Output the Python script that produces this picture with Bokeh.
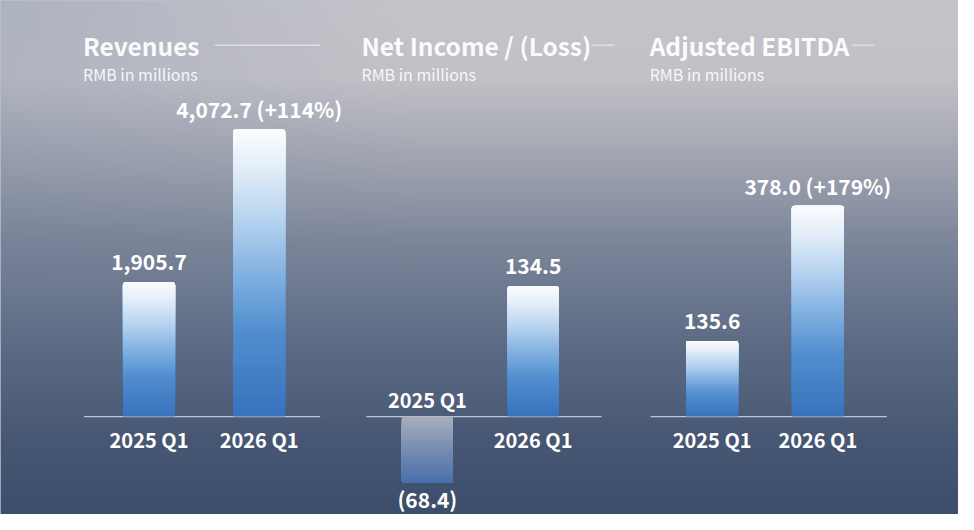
import numpy as np
from bokeh.plotting import figure
from bokeh.models import Range1d, Label, ColumnDataSource
from bokeh.embed import file_html
from bokeh.resources import INLINE
from bokeh.core.properties import value

# ---------------- data ----------------
periods = ["2025 Q1", "2026 Q1"]
revenues = [1905.7, 4072.7]
revenue_labels = ["1,905.7", "4,072.7 (+114%)"]
net_income = [-68.4, 134.5]
net_income_labels = ["(68.4)", "134.5"]
ebitda = [135.6, 378.0]
ebitda_labels = ["135.6", "378.0 (+179%)"]
titles = ["Revenues", "Net Income / (Loss)", "Adjusted EBITDA"]
subtitle = "RMB in millions"

# ---------------- layout / style (reference pixel space -> canvas) ----------------
W, H = 958, 514
REF_W, REF_H = 974, 530
SX, SY = W / REF_W, H / REF_H
FONT = "Noto Sans CJK SC"
BASE_REF_Y = 429


def cy(ref_y):
    return H - ref_y * SY


def cx(ref_x):
    return ref_x * SX


layout = [
    dict(centers=(151, 263), bar_px=53, base_x=(85, 325), ppu=296 / 4072.7,
         title_x=84, rule=(218, 325)),
    dict(centers=(434, 541.5), bar_px=52, base_x=(372, 611), ppu=1.0,
         title_x=367, rule=(601, 624)),
    dict(centers=(723.5, 831), bar_px=53, base_x=(661, 901), ppu=0.575,
         title_x=660, rule=(866, 889)),
]
series = [(revenues, revenue_labels), (net_income, net_income_labels), (ebitda, ebitda_labels)]

p = figure(width=W, height=H, x_range=Range1d(0, W), y_range=Range1d(0, H),
           x_axis_location=None, y_axis_location=None, min_border=0,
           toolbar_location=None, output_backend="svg",
           background_fill_color="#7a8699", border_fill_color="#7a8699")
p.grid.visible = False
p.outline_line_color = None


def interp(stops, t):
    pos = [s[0] for s in stops]
    arr = np.array([s[1] for s in stops], float)
    return np.stack([np.interp(t, pos, arr[:, c]) for c in range(3)], axis=-1)


# ---------------- background gradient ----------------
ny, nx = 265, 97
ref_y = REF_H - (np.arange(ny) + 0.5) * REF_H / ny
ref_x = (np.arange(nx) + 0.5) * REF_W / nx
bg_stops = [(0, (198, 196, 202)), (80, (194, 193, 199)), (160, (163, 166, 178)),
            (250, (124, 134, 154)), (350, (94, 108, 134)), (450, (72, 88, 116)),
            (530, (60, 78, 108))]
col = interp(bg_stops, ref_y)[:, None, :] * np.ones((1, nx, 1))
t_top = np.clip(1 - ref_y / 300, 0, 1)[:, None]
left = np.clip(1 - ref_x / 420, 0, 1)[None, :]
shift = np.array([-24, -17, -9], float)
col = col + (t_top * left)[:, :, None] * shift
rgba = np.empty((ny, nx, 4), dtype=np.uint8)
rgba[:, :, :3] = np.clip(col, 0, 255).astype(np.uint8)
rgba[:, :, 3] = 255
img = rgba.view(np.uint32).reshape(ny, nx)
p.image_rgba(image=[img], x=0, y=0, dw=W, dh=H)

# ---------------- bar gradients ----------------
pos_stops = [(0, (56, 114, 188)), (0.3, (82, 142, 207)), (0.5, (130, 178, 225)),
             (0.7, (186, 213, 240)), (0.88, (230, 239, 249)), (1, (251, 252, 254))]
neg_stops = [(0, (168, 174, 190)), (0.5, (118, 140, 178)), (1, (72, 112, 172))]
N = 60


def hexc(rgb):
    return "#%02x%02x%02x" % tuple(int(round(c)) for c in rgb)


for i, (lay, (vals, labs)) in enumerate(zip(layout, series)):
    c1, c2 = (cx(c) for c in lay["centers"])
    unit = c2 - c1
    xs = -c1 / unit
    xr = Range1d(xs, xs + W / unit)
    b = cy(BASE_REF_Y)
    ppu = lay["ppu"] * SY
    ys = -b / ppu
    yr = Range1d(ys, ys + H / ppu)
    xn, yn = "x%d" % i, "y%d" % i
    p.extra_x_ranges[xn] = xr
    p.extra_y_ranges[yn] = yr
    half = lay["bar_px"] * SX / unit / 2

    # baseline
    bx0 = (cx(lay["base_x"][0]) - c1) / unit
    bx1 = (cx(lay["base_x"][1]) - c1) / unit
    p.segment(x0=[bx0], y0=[0], x1=[bx1], y1=[0], x_range_name=xn, y_range_name=yn,
              line_color="#d4d8e2", line_alpha=0.85, line_width=1.3)

    for j, v in enumerate(vals):
        fr = [(k + 0.5) / N for k in range(N)]
        stops = pos_stops if v >= 0 else neg_stops
        colors = [hexc(c) for c in interp(stops, np.array(fr))]
        starts = [v * k / N for k in range(N)]
        if v >= 0:
            src = ColumnDataSource(dict(left=[j - half] * N, right=[j + half] * N,
                                        bottom=starts, top=[v] * N, color=colors))
            br = (3, 3, 0, 0)
        else:
            src = ColumnDataSource(dict(left=[j - half] * N, right=[j + half] * N,
                                        bottom=[v] * N, top=starts, color=colors))
            br = (0, 0, 3, 3)
        p.quad(left="left", right="right", bottom="bottom", top="top", source=src,
               fill_color="color", line_color=None, border_radius=br,
               x_range_name=xn, y_range_name=yn)

        # value label
        p.text(x=[j], y=[v], text=[labs[j]], x_range_name=xn, y_range_name=yn,
               text_align="center", text_baseline="middle",
               y_offset=(-20 if v >= 0 else 16),
               text_font=value(FONT), text_font_style="bold", text_font_size="21px",
               text_color="white")
        # category label
        p.text(x=[j], y=[0], text=[periods[j]], x_range_name=xn, y_range_name=yn,
               text_align="center", text_baseline="middle",
               y_offset=(23 if v >= 0 else -17),
               text_font=value(FONT), text_font_style="bold", text_font_size="20px",
               text_color="white")

    # title, subtitle and rule
    p.add_layout(Label(x=cx(lay["title_x"]), y=cy(46), x_units="screen", y_units="screen",
                       text=titles[i], text_baseline="middle", text_font=FONT,
                       text_font_style="bold", text_font_size="24.5px",
                       text_color="white", text_alpha=0.95))
    p.add_layout(Label(x=cx(lay["title_x"]), y=cy(76), x_units="screen", y_units="screen",
                       text=subtitle, text_baseline="middle", text_font=FONT,
                       text_font_size="16px", text_color="white", text_alpha=0.9))
    p.segment(x0=[cx(lay["rule"][0])], y0=[cy(46)], x1=[cx(lay["rule"][1])], y1=[cy(46)],
              line_color="white", line_alpha=0.75, line_width=1)

open("out.html", "w").write(file_html(p, INLINE))
